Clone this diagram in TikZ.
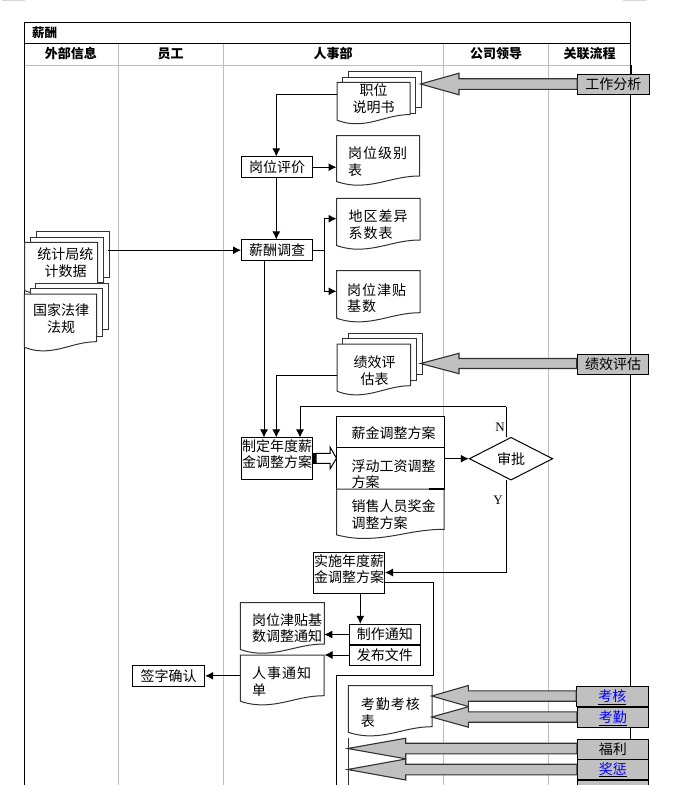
\documentclass[tikz,border=0pt]{standalone}
\usepackage{fontspec}
\setmainfont{Noto Sans CJK SC}
\newfontfamily\latinserif{Liberation Serif}
\usetikzlibrary{calc,arrows.meta,positioning,shapes.geometric}
\definecolor{tabgray}{RGB}{192,192,192}
\definecolor{lanegray}{RGB}{190,190,190}
\definecolor{edgegray}{RGB}{50,50,50}
\newcommand{\plainface}{\fontsize{14}{16.5}\selectfont}
\newcommand{\wideface}{\fontsize{14}{16.5}\selectfont\addfontfeature{LetterSpace=7}}
\newcommand{\headface}{\fontsize{13}{15}\selectfont\bfseries}
\tikzset{
  flow/.style={line width=1pt, -{Latex[length=8pt,width=8pt]}},
  plainline/.style={line width=1pt},
  box/.style={draw=black, line width=1pt, fill=white, inner sep=0pt, minimum width=71pt, align=center, font=\plainface},
  pageline/.style={draw=edgegray, line width=1pt, fill=white},
  doctext/.style={inner sep=0pt, align=left, anchor=west, font=\plainface},
  midtext/.style={inner sep=0pt, align=center, font=\plainface},
  tab/.style={draw=black, line width=1pt, fill=tabgray, inner sep=0pt, minimum width=71.5pt, minimum height=20.3pt, text height=11.5pt, text depth=2pt, font=\plainface},
  blockbody/.style={draw=edgegray, line width=1.1pt, fill=tabgray},
  head/.style={inner sep=0pt, font=\headface},
}
% document page with a wavy lower edge: x1, top, x2, y of the right end of the wave
\newcommand{\docpage}[4]{
  \filldraw[pageline] (#1,#2) -- (#3,#2) -- (#3,#4)
    .. controls ({#3-0.3*(#3-#1)},#4) and ({#1+0.5*(#3-#1)},{#4+10.5}) .. ({#1+0.2*(#3-#1)},{#4+9})
    .. controls ({#1+0.12*(#3-#1)},{#4+8.5}) and ({#1+0.05*(#3-#1)},{#4+7}) .. (#1,{#4+5.5}) -- cycle;
}
% stack of three pages: x1, top, x2, wave end, lower edge of back page, lower edge of middle page
\newcommand{\docstack}[6]{
  \filldraw[pageline] ({#1+11.5},{#2-10.5}) rectangle ({#3+11.5},#5);
  \filldraw[pageline] ({#1+5.7},{#2-5.3}) rectangle ({#3+5.7},#6);
  \docpage{#1}{#2}{#3}{#4}
}
% grey block arrow from a tab to a tip: tip, tab, head length, half head, half body
\newcommand{\blockarrow}[5]{
  \coordinate (bu) at ($(#1)+(#3,-#5)$);
  \coordinate (bl) at ($(#1)+(#3,#5)$);
  \filldraw[blockbody] (#1) -- ++(#3,-#4) -- (bu) -- (bu -| #2.west) -- (bl -| #2.west) -- (bl) -- ($(#1)+(#3,#4)$) -- cycle;
}
\begin{document}
\begin{tikzpicture}[x=1pt,y=-1pt]
\useasboundingbox (0,0) rectangle (679,785);

% corner marks of the page
\fill[lanegray!60] (2,0) rectangle (25,1);
\fill[lanegray!60] (623,0) rectangle (647,1);

% frame and lanes
\draw[lanegray, line width=1pt] (24.5,65) -- (630.5,65);
\foreach \lanex in {118,223,443.3,548.3}
  \draw[lanegray, line width=1pt] (\lanex,43) -- (\lanex,785);
\draw[line width=1pt] (24.5,785) -- (24.5,22.5) -- (630.5,22.5) -- (630.5,785);
\draw[line width=1pt] (24.5,43) -- (630.5,43);
\fill (630.5,65) rectangle (632.3,74.5);

\node[head, font=\fontsize{12.5}{14}\selectfont\bfseries] (title) at (44.5,32.5) {薪酬};
\node[head] (lane1) at (71,54) {外部信息};
\node[head] (lane2) at (170.5,54) {员工};
\node[head] (lane3) at (333,54) {人事部};
\node[head] (lane4) at (496,54) {公司领导};
\node[head] (lane5) at (589.5,54) {关联流程};

% documents
\docstack{337}{82.3}{410}{114.6}{107.3}{113.3}
\node[midtext] (jobdoc) at (373.5,98.5) {职位\\说明书};
\coordinate (jobout) at (337,94.7);
\coordinate (jobtip) at (420.5,84);

\docpage{336.5}{135.5}{419.5}{176}
\node[doctext, font=\wideface] (gradedoc) at (348,161.5) {岗位级别\\表};
\coordinate (gradein) at (336.5,167.2);

\docpage{336.5}{198.3}{420}{240}
\node[doctext, font=\wideface] (areadoc) at (348.5,224.5) {地区差异\\系数表};
\coordinate (areain) at (336.5,218.7);

\docpage{336.5}{270.7}{420}{312.7}
\node[doctext, font=\wideface] (allowdoc) at (347,298) {岗位津贴\\基数};
\coordinate (allowin) at (336.5,291.3);

\docstack{337}{344}{410.7}{385.7}{374.3}{380}
\node[midtext] (evaldoc) at (374.5,370.5) {绩效评\\估表};
\coordinate (evalout) at (337,375.3);
\coordinate (evaltip) at (420.5,363.5);

\docstack{24.5}{242.3}{97.7}{285}{277.7}{282}
\node[midtext] (statdoc) at (65.5,262.5) {统计局统\\计数据};
\coordinate (statout) at (108.3,250.2);
\docstack{24.3}{294}{96.7}{341.7}{329.3}{336}
\node[midtext] (lawdoc) at (61,318.7) {国家法律\\法规};

% plan stack
\filldraw[pageline, draw=black] (336.5,416.7) rectangle (444,447.3);
\filldraw[pageline, draw=black] (336.5,447.3) rectangle (444,489);
\docpage{336.5}{489}{444}{529.3}
\draw[line width=1.4pt] (429,489) -- (444,489);
\node[doctext] (plan1) at (351.5,433) {薪金调整方案};
\node[doctext] (plan2) at (351.5,474) {浮动工资调整\\方案};
\node[doctext] (plan3) at (351.5,514.7) {销售人员奖金\\调整方案};
\coordinate (planout) at (444,458.7);

\docpage{240.3}{602.7}{324.3}{644}
\node[doctext] (noticedoc) at (252,628.3) {岗位津贴基\\数调整通知};
\coordinate (noticein) at (324.3,634.5);
\docpage{240.3}{655}{324}{695.7}
\node[doctext, font=\wideface] (persondoc) at (252,681.7) {人事通知\\单};
\coordinate (personin) at (324.5,655);
\coordinate (personout) at (240.3,675.8);
\docpage{348.3}{685.7}{432}{726.7}
\node[doctext, font=\wideface] (checkdoc) at (360.7,712.7) {考勤考核\\表};
\coordinate (checktip1) at (431.7,696);
\coordinate (checktip2) at (431.7,717);

% boxes
\node[box, minimum height=20.5pt] (rate) at (277,167.2) {岗位评价};
\node[box, minimum height=20.5pt] (survey) at (277,250.2) {薪酬调查};
\node[box, minimum height=41.5pt] (draft) at (277,458.7) {};
\node[midtext] (drafttext) at (277,454) {制定年度薪\\金调整方案};
\node[box, minimum height=40.6pt] (apply) at (349,573) {};
\node[midtext] (applytext) at (349,569) {实施年度薪\\金调整方案};
\node[box, minimum height=20.4pt] (make) at (384.8,634.5) {制作通知};
\node[box, minimum height=20pt] (issue) at (384.8,655.3) {发布文件};
\node[box, minimum width=72.4pt, minimum height=21pt] (sign) at (168.5,675.8) {签字确认};
\node[draw=black, line width=1pt, fill=white, diamond, aspect=2, inner sep=0pt, minimum width=83.5pt, minimum height=42.8pt, font=\plainface] (approve) at (511,458.7) {审批};
\node[inner sep=0pt, font=\latinserif\fontsize{13}{15}\selectfont] (nlabel) at (500,427) {N};
\node[inner sep=0pt, font=\latinserif\fontsize{13}{15}\selectfont] (ylabel) at (498,500) {Y};

% connectors
\coordinate (rejecttop) at (506,406.7);
\coordinate (applyback) at (433.3,582.3);
\coordinate (outline) at (336,675);
\draw[flow] (jobout) -| (rate.north -| 276.3,0);
\draw[flow] (rate.east) -- (gradein);
\draw[flow] (rate.south -| 276.3,0) -- (survey.north -| 276.3,0);
\draw[flow] (statout) -- (survey.west);
\draw[plainline] (survey.east) -- (324.3,250.2);
\draw[flow] (324.3,250.2) |- (areain);
\draw[flow] (324.3,250.2) |- (allowin);
\draw[flow] (survey.south -| 264,0) -- (draft.north -| 264,0);
\draw[flow] (evalout) -| (draft.north -| 276.3,0);
\draw[plainline] (506,437.3) -- (rejecttop);
\draw[flow] (rejecttop) -| (draft.north -| 300,0);
\draw[flow] (planout) -- (approve.west);
\draw[flow] (506,480) |- (apply.east |- 0,572.5);
\draw[plainline] (apply.east |- applyback) -- (applyback) |- (outline) -- (336,785);
\draw[flow] (apply.south -| 360.3,0) -- (make.north -| 360.3,0);
\draw[flow] (make.west) -- (noticein);
\draw[flow] (issue.west |- personin) -- (personin);
\draw[flow] (personout) -- (sign.east);

% hollow arrow from the draft to the plans
\filldraw[line width=1pt, fill=white] (316,453.3) -- (330,453.3) -- (330,447) -- (336.5,458.2) -- (330,469) -- (330,463.3) -- (316,463.3) -- cycle;
\fill (312.5,453) rectangle (316,463.6);

% tabs of the related processes
\node[tab] (tabjob) at (613.3,84.5) {工作分析};
\node[tab] (tabeval) at (613,364.7) {绩效评估};
\node[tab] (tabcheck) at (612.3,696.5) {\underline{\textcolor{blue}{考核}}};
\node[tab, minimum width=71pt] (tabattend) at (612.8,717.5) {\underline{\textcolor{blue}{考勤}}};
\node[tab, minimum width=71pt] (tabwelfare) at (612.8,749.3) {福利};
\node[tab, minimum width=71pt] (tabreward) at (612.8,769.3) {\underline{\textcolor{blue}{奖惩}}};
\node[tab, minimum width=71pt, anchor=north] (tabmore) at (612.8,780.3) {};

% block arrows
\coordinate (welfaretip) at (347.7,748.5);
\coordinate (rewardtip) at (347.7,769.5);
\blockarrow{jobtip}{tabjob}{38.5}{10.8}{5.3}
\blockarrow{evaltip}{tabeval}{38.5}{10.2}{5}
\blockarrow{checktip1}{tabcheck}{36.6}{10.5}{5.2}
\blockarrow{checktip2}{tabattend}{36.6}{10.2}{5.2}
\blockarrow{welfaretip}{tabwelfare}{58}{10.3}{5.3}
\blockarrow{rewardtip}{tabreward}{58}{10.5}{5.3}
\draw[edgegray, line width=1pt] (348,738) -- (348,785);

\end{tikzpicture}
\end{document}
